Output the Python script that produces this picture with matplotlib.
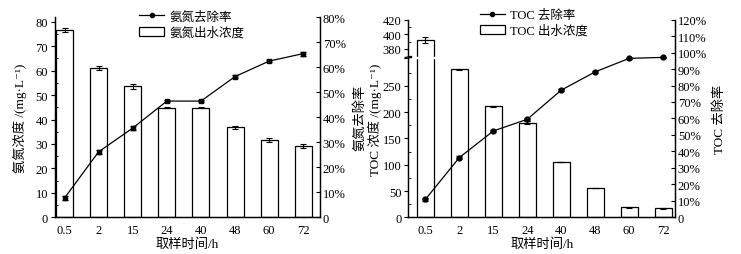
import numpy as np
import matplotlib
matplotlib.use("Agg")
import matplotlib.pyplot as plt
import matplotlib.transforms as mtransforms
from matplotlib.ticker import FuncFormatter

plt.rcParams['font.family'] = ['Liberation Serif', 'Noto Sans CJK SC', 'DejaVu Serif']
plt.rcParams['font.size'] = 9
plt.rcParams['axes.labelsize'] = 9.5
plt.rcParams['axes.linewidth'] = 0.9

# sampling times (categories)
times = ['0.5', '2', '15', '24', '40', '48', '60', '72']

# ammonia nitrogen: effluent concentration (mg/L) and removal rate (%)
nh_conc = [76.5, 61.2, 53.6, 44.9, 44.9, 36.8, 31.6, 29.2]
nh_conc_err = [0.8, 0.8, 1.0, 0.2, 0.2, 0.5, 0.8, 0.8]
nh_rate = [7.7, 26.2, 35.7, 46.5, 46.5, 56.3, 62.5, 65.5]
nh_rate_err = [0.8, 0.8, 0.8, 0.3, 0.3, 0.5, 0.5, 0.8]

# TOC: effluent concentration (mg/L) and removal rate (%)
toc_conc = [392, 282, 211, 180, 105, 56, 19, 17]
toc_conc_err = [4, 1, 1.5, 3, 0.5, 0.5, 0.5, 0.5]
toc_rate = [10.8, 36.2, 52.4, 59.5, 77.2, 88.3, 96.5, 97.1]
toc_rate_err = [0.8, 0.8, 0.8, 0.8, 0.5, 0.5, 0.5, 0.5]

x = np.arange(len(times))
pct = FuncFormatter(lambda v, p: '0' if v == 0 else '%d%%' % v)
unit = '/(mg·L\u207b\u00b9)'

fig = plt.figure(figsize=(7.41, 2.55), dpi=100)

# ---------------- left panel: ammonia nitrogen ----------------
ax1 = fig.add_axes([0.0742, 0.144, 0.3576, 0.784])
bars1 = ax1.bar(x, nh_conc, width=0.5, color='white', edgecolor='black', linewidth=0.9,
                yerr=nh_conc_err, capsize=2.5, error_kw=dict(elinewidth=0.8, capthick=0.8),
                label='氨氮出水浓度')
ax1.set_xlim(-0.28, 7.49)
ax1.set_ylim(0, 81.8)
ax1.set_yticks(np.arange(0, 81, 10))
ax1.set_yticks(np.arange(5, 81, 10), minor=True)
ax1.set_xticks(x)
ax1.set_xticklabels(times)
ax1.tick_params(axis='x', length=0, pad=5)
ax1.tick_params(axis='y', which='major', direction='out', length=3, pad=2)
ax1.tick_params(axis='y', which='minor', direction='in', length=2)
ax1.spines['top'].set_visible(False)
ax1.set_ylabel('氨氮浓度 ' + unit)
ax1.yaxis.set_label_coords(-0.106, 0.5)
ax1.set_xlabel('取样时间/h', labelpad=1)

ax1r = ax1.twinx()
ax1r.errorbar(x, nh_rate, yerr=nh_rate_err, color='black', lw=0.9, marker='s',
              markersize=3, mfc='black', capsize=2, elinewidth=0.7)
ax1r.set_ylim(0, 80)
ax1r.set_yticks(np.arange(0, 81, 10))
ax1r.yaxis.set_major_formatter(pct)
ax1r.tick_params(axis='y', direction='in', length=3, pad=2)
ax1r.spines['top'].set_visible(False)
ax1r.set_ylabel('氨氮去除率')
ax1r.yaxis.set_label_coords(1.128, 0.5)

h1 = [ax1r.plot([], [], color='black', lw=0.9, marker='o', markersize=3)[0], bars1]
ax1.legend(h1, ['氨氮去除率', '氨氮出水浓度'], loc='upper left', bbox_to_anchor=(0.3, 1.06),
           frameon=False, handlelength=2.0, handletextpad=0.4, labelspacing=0.3,
           borderaxespad=0)

# ---------------- right panel: TOC (broken axis) ----------------
knots_in = [-1000, 0, 290, 370, 1000]
knots_out = [-525, 0, 152.25, 161, 161 + 630 * 0.73]

def fwd(v):
    return np.interp(v, knots_in, knots_out)

def inv(v):
    return np.interp(v, knots_out, knots_in)

ax2 = fig.add_axes([0.551, 0.144, 0.360, 0.775])
ax2.set_yscale('function', functions=(fwd, inv))
bars2 = ax2.bar(x, toc_conc, width=0.5, color='white', edgecolor='black', linewidth=0.9,
                yerr=toc_conc_err, capsize=2.5, error_kw=dict(elinewidth=0.8, capthick=0.8),
                label='TOC 出水浓度', zorder=2)
ax2.axhspan(354, 366, color='white', zorder=3)
ax2.set_xlim(-0.5, 7.35)
ax2.set_ylim(0, 420)
ax2.set_yticks([0, 50, 100, 150, 200, 250, 380, 400, 420])
ax2.set_yticks([25, 75, 125, 175, 225, 275, 390, 410], minor=True)
ax2.set_xticks(x)
ax2.set_xticklabels(times)
ax2.tick_params(axis='x', length=0, pad=5)
ax2.tick_params(axis='y', which='major', direction='out', length=3, pad=2)
ax2.tick_params(axis='y', which='minor', direction='in', length=2)
ax2.spines['top'].set_visible(False)
ax2.set_ylabel('TOC 浓度 ' + unit)
ax2.yaxis.set_label_coords(-0.099, 0.5)
ax2.set_xlabel('取样时间/h', labelpad=1)

# break marks "//" on the left spine
brk = mtransforms.blended_transform_factory(ax2.transAxes, ax2.transData)
for y0 in (352, 362):
    ax2.plot([-0.012, 0.012], [y0 - 4, y0 + 6], transform=brk, color='black', lw=0.9,
             clip_on=False, zorder=6)

ax2r = ax2.twinx()
ax2r.errorbar(x, toc_rate, yerr=toc_rate_err, color='black', lw=0.9, marker='o',
              markersize=3.5, mfc='black', capsize=2, elinewidth=0.7)
ax2r.set_ylim(0, 120)
ax2r.set_yticks(np.arange(0, 121, 10))
ax2r.yaxis.set_major_formatter(pct)
ax2r.tick_params(axis='y', direction='in', length=3, pad=2)
ax2r.spines['top'].set_visible(False)
ax2r.set_ylabel('TOC 去除率')
ax2r.yaxis.set_label_coords(1.142, 0.5)

h2 = [ax2r.plot([], [], color='black', lw=0.9, marker='o', markersize=3)[0], bars2]
ax2.legend(h2, ['TOC 去除率', 'TOC 出水浓度'], loc='upper left', bbox_to_anchor=(0.25, 1.08),
           frameon=False, handlelength=2.0, handletextpad=0.4, labelspacing=0.3,
           borderaxespad=0)

fig.savefig('out.png', dpi=100)
